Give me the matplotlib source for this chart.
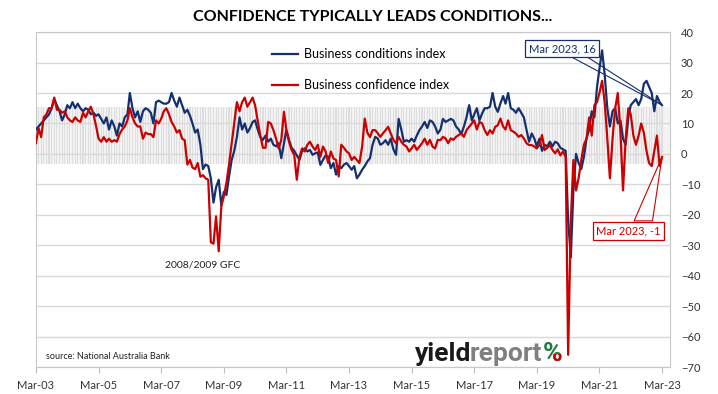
import pandas as pd
import matplotlib
matplotlib.use("Agg")
import matplotlib.pyplot as plt
import matplotlib.dates as mdates
from matplotlib.patches import Polygon
from matplotlib.transforms import Bbox

plt.rcParams["font.family"] = ["Lato", "DejaVu Sans"]

# monthly NAB survey readings, Mar-2003 .. Mar-2023
START = "2003-03-01"
CONDITIONS = [
    8, 9, 10, 11, 12, 13, 15, 18, 16, 14, 11, 13,
    16, 15, 17, 15, 16.5, 15, 14, 15, 14.5, 13, 13.5, 12.5,
    13, 11.5, 10, 12, 8, 11, 9, 6, 10, 9, 12, 13,
    20, 15, 12, 14, 10.5, 14, 15, 14.5, 13.5, 10, 17, 17.5,
    17, 16.5, 16.5, 17, 20, 17.5, 15.5, 18.5, 16, 13.5, 14.5, 12.5,
    10, 7, 8, 3, -5, -3.5, -4, -8, -16, -11, -8.5, -17,
    -12.5, -13.5, -7.5, -2, 1, 5.5, 12, 8, 10, 7, 8.5, 10.5,
    11, 8, 5.5, 4.6, 6, 4, 5, 3, 2.5, 3.5, -1.4, 3.5,
    7.8, 4.6, 2, 1, -0.5, -2, 1, 1.8, 0.8, 1.3, -0.3, 0.2,
    0.5, -3.6, -2, -0.5, -0.9, -4.7, -3, -6.8, -4, -4.7, -3.5, -3,
    -4, -5.2, -4, -8, -6.8, -5.2, -4, -2.5, -1.4, 3, 5.6, 5,
    3, 3.5, 4.5, 3, 5, 1.5, -0.3, 11.5, 8, 4, 4.5, 4,
    5, 4, 6, 7.8, 9, 10.5, 8.5, 11, 10.5, 9, 6.7, 8,
    11.5, 10.5, 11, 11.5, 11, 9, 8, 6.5, 9, 12, 16, 11,
    13, 15, 11, 13.3, 15, 15, 15.5, 20, 15.5, 13.8, 16.6, 19,
    16.5, 20, 15, 14.5, 13.5, 15, 13.5, 12, 8, 4, 6.7, 5,
    2.5, 5, 1, 3, 2.5, 4, 2.5, 4, 3.5, 2, 1.5, 1,
    -22, -34, -12, 0, -3, -5, -1, 5, 8, 14, 12, 22,
    28, 34, 26, 15, 9, 14, 15, 10, 11, 5, 3, 12,
    16, 17, 18, 16, 18, 23, 24, 22, 20, 14, 19, 17,
    16,
]
CONFIDENCE = [
    3.5, 8.5, 5.5, 12, 13, 15, 15, 18.5, 14.5, 14.5, 13.5, 14,
    12, 11, 10.5, 12, 11, 10.5, 13.5, 12, 14, 15.5, 13, 9,
    5, 4, 5.5, 4, 5, 4, 4.5, 4, 6.5, 8, 9, 11,
    15, 12, 10, 9, 9, 5, 7, 6.5, 6.5, 5.5, 11, 10,
    11.5, 14, 15, 13, 10.5, 9, 7, 7.8, 5, 4.5, -3.5, -2,
    -4.5, -5, -3, -7.5, -7, -8, -8.5, -29, -29.5, -20.5, -32, -17,
    -14, -9.5, -3.5, 3.5, 10, 17, 14, 17, 18.5, 15.5, 17, 18.5,
    16, 11, 6, 2, 2, 10.5, 10, 7.8, 5, 1.8, 4.6, 13.8,
    8, 4, 1.3, -0.3, -8.5, -1, 1.8, 0.8, 3, 4, 2.4, 1.3,
    3, -1, 2.4, 0.8, -3, 0.8, -1.5, -2, -7.4, 3, 2, 0.8,
    0.2, -2, -1, -2, -3, 2.4, 11.6, 7, 5.5, 7.8, 7.8, 6.7,
    5.6, 6.7, 7.8, 8.9, 6.7, 4.6, 3.5, 5.6, 4, 3, 2.4, 0.8,
    1.8, 3, 1.3, 2.4, 3.5, 5, 3, 4.6, 2.4, 1.8, 4.6, 4.5,
    5.6, 5.1, 3.5, 5.1, 4.6, 5.6, 6.2, 6.7, 5.6, 7.8, 8.9, 10,
    11, 8, 10.5, 10, 7.8, 6.2, 7.8, 6.7, 8.9, 9.4, 11.6, 9,
    8, 11, 7.8, 7.3, 6.7, 5.6, 6.2, 5.1, 3.5, 2.9, 2.9, 2.4,
    1.8, 2.9, 6.2, 1.3, 2, 2.9, 1.3, 0.2, 1.5, -0.5, 0.8, -1,
    -66, -22, -2, -12, -8, -2, 3, 5, 12, 6, 16, 17,
    20, 24, 17, 5, -8, 5, 15, 20, 7, -12, 5, 15,
    13, 6, 3, 6, 10, 7, 1, -3, -4, 1, 6, -4,
    -1,
]
BAND_LOW, BAND_HIGH = -3.4, 15.3
LABELS = ["Business conditions index", "Business confidence index"]

NAVY = "#14306e"
RED = "#cc0000"
GRID = "#d9d9d9"

dates = pd.date_range(START, periods=len(CONDITIONS), freq="MS")

fig = plt.figure(figsize=(7.18, 3.94), dpi=100)
ax = fig.add_axes([0.050, 0.0685, 0.883, 0.850])

# shaded "normal range" band made of thin monthly bars
ax.axhspan(BAND_LOW, BAND_HIGH, color="#f3f3f3", lw=0, zorder=0)
ax.bar(dates, BAND_HIGH - BAND_LOW, bottom=BAND_LOW, width=13,
       color="#dedede", lw=0, zorder=0.5)

ax.plot(dates, CONDITIONS, color=NAVY, lw=1.6, label=LABELS[0], zorder=3)
ax.plot(dates, CONFIDENCE, color=RED, lw=1.6, label=LABELS[1], zorder=3)

ax.set_ylim(-70, 40)
ax.set_yticks(range(-70, 41, 10))
ax.set_xlim(pd.Timestamp("2003-03-01"), pd.Timestamp("2023-06-01"))
ax.set_xticks(pd.date_range("2003-03-01", "2023-03-01", freq="24MS"))
ax.xaxis.set_major_formatter(mdates.DateFormatter("%b-%y"))
ax.yaxis.tick_right()
ax.tick_params(axis="y", length=0, pad=8, labelsize=8, colors="#333333")
ax.tick_params(axis="x", length=4, color="#bfbfbf", pad=5, labelsize=8,
               labelcolor="#333333")
ax.grid(axis="y", color=GRID, lw=1, zorder=1)
ax.set_axisbelow(True)
for s in ax.spines.values():
    s.set_color("#c8c8c8")

ax.legend(loc="upper left", bbox_to_anchor=(0.372, 0.952), frameon=False,
          fontsize=9, handlelength=2.1, handletextpad=0.45, labelspacing=1.5,
          borderaxespad=0, borderpad=0)

# data callouts for the latest readings
end = dates[-1]
ax.text(pd.Timestamp("2019-12-20"), 34.6, "Mar 2023, 16", ha="center", va="center",
        fontsize=8, color=NAVY, zorder=6,
        bbox=dict(boxstyle="square,pad=0.3", fc="white", ec=NAVY, lw=0.9))
ax.add_patch(Polygon([(mdates.date2num(pd.Timestamp("2020-03-15")), 32.2),
                      (mdates.date2num(pd.Timestamp("2020-09-20")), 32.2),
                      (mdates.date2num(end), CONDITIONS[-1])],
                     closed=True, fill=False, ec=NAVY, lw=0.8, zorder=5))
ax.text(pd.Timestamp("2022-02-05"), -25.3, "Mar 2023, -1", ha="center", va="center",
        fontsize=8, color=RED, zorder=6,
        bbox=dict(boxstyle="square,pad=0.3", fc="white", ec=RED, lw=0.9))
ax.add_patch(Polygon([(mdates.date2num(pd.Timestamp("2022-04-10")), -22.0),
                      (mdates.date2num(pd.Timestamp("2022-11-10")), -22.0),
                      (mdates.date2num(end), CONFIDENCE[-1])],
                     closed=True, fill=False, ec=RED, lw=0.8, zorder=5))

ax.text(pd.Timestamp("2008-07-01"), -36.5, "2008/2009 GFC", ha="center", va="center",
        fontsize=7.5, color="#222222")
ax.text(0.016, 0.03, "source: National Australia Bank", transform=ax.transAxes,
        fontsize=6.5, color="#222222", ha="left", va="center")

fig.text(373 / 718, 1 - 17 / 394, "CONFIDENCE TYPICALLY LEADS CONDITIONS...",
         ha="center", va="center", fontsize=11.5, fontweight="bold")

# yieldreport logo
logo_y = 1 - 354 / 394
fig.text(415 / 718, logo_y, "yield", fontsize=19, fontweight="bold",
         color="#1a1a1a", ha="left", va="center", family="Roboto")
fig.text(470 / 718, logo_y, "report", fontsize=19, fontweight="bold",
         color="#808080", ha="left", va="center", family="Roboto")
fig.text(543 / 718, logo_y, "%", fontsize=19, fontweight="bold",
         color="#1e7b3a", ha="left", va="center", family="Roboto")
pct_red = fig.text(543 / 718, logo_y, "%", fontsize=19, fontweight="bold",
                   color=RED, ha="left", va="center", family="Roboto")
# lower right half of the percent sign in red
pct_red.set_clip_box(Bbox.from_extents(552, 394 - 366, 566, 394 - 354))
pct_red.set_clip_on(True)

fig.savefig("out.png", dpi=100)
